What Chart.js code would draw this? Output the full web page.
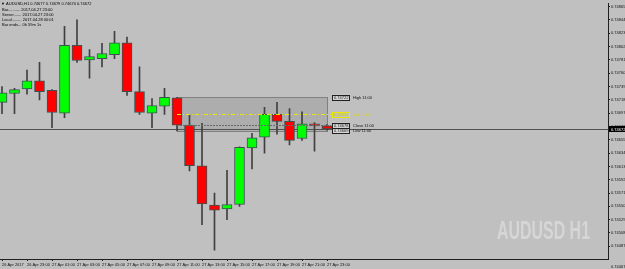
<!DOCTYPE html>
<html><head><meta charset="utf-8">
<script src="https://cdn.jsdelivr.net/npm/chart.js@4/dist/chart.umd.min.js"></script>
<style>
html,body{margin:0;padding:0;background:#c0c0c0;overflow:hidden}
#wrap{position:relative;width:625px;height:269px}
canvas{display:block}
</style>
</head><body><div id="wrap"><canvas id="c" width="625" height="269"></canvas></div>
<script>
// ---- data (AUDUSD H1, 26 Apr 21:00 .. 27 Apr 23:00) ----
const barTimes = ['26 Apr 21:00','26 Apr 22:00','26 Apr 23:00','27 Apr 00:00','27 Apr 01:00','27 Apr 02:00','27 Apr 03:00','27 Apr 04:00','27 Apr 05:00','27 Apr 06:00','27 Apr 07:00','27 Apr 08:00','27 Apr 09:00','27 Apr 10:00','27 Apr 11:00','27 Apr 12:00','27 Apr 13:00','27 Apr 14:00','27 Apr 15:00','27 Apr 16:00','27 Apr 17:00','27 Apr 18:00','27 Apr 19:00','27 Apr 20:00','27 Apr 21:00','27 Apr 22:00','27 Apr 23:00'];
const openP  = [0.74714,0.74728,0.74735,0.74748,0.74733,0.74697,0.74804,0.74781,0.74783,0.74789,0.74808,0.74731,0.74697,0.74708,0.74721,0.74678,0.74614,0.74552,0.74546,0.74553,0.74642,0.74659,0.74695,0.74684,0.74657,0.74680,0.74677];
const highP  = [0.74739,0.74736,0.74765,0.74777,0.74734,0.74834,0.74844,0.74797,0.74807,0.74826,0.74817,0.74770,0.74720,0.74736,0.74722,0.74694,0.74681,0.74571,0.74607,0.74644,0.74665,0.74706,0.74714,0.74704,0.74699,0.74682,0.74679];
const lowP   = [0.74696,0.74696,0.74727,0.74718,0.74674,0.74690,0.74777,0.74752,0.74770,0.74783,0.74725,0.74695,0.74674,0.74695,0.74669,0.74606,0.74521,0.74481,0.74529,0.74550,0.74609,0.74634,0.74664,0.74647,0.74654,0.74637,0.74670];
const closeP = [0.74729,0.74734,0.74748,0.74731,0.74698,0.74804,0.74780,0.74786,0.74791,0.74808,0.74731,0.74698,0.74709,0.74722,0.74678,0.74614,0.74554,0.74544,0.74553,0.74643,0.74658,0.74695,0.74684,0.74654,0.74680,0.74677,0.74672];
const axisLabels = ['26 Apr 2017','26 Apr 23:00','27 Apr 01:00','27 Apr 03:00','27 Apr 05:00','27 Apr 07:00','27 Apr 09:00','27 Apr 11:00','27 Apr 13:00','27 Apr 15:00','27 Apr 17:00','27 Apr 19:00','27 Apr 21:00','27 Apr 23:00'];
const axisLabelIdx = [0,2,4,6,8,10,12,14,16,18,20,22,24,26];
const yTicks = [0.74865,0.74844,0.74823,0.74802,0.74781,0.74760,0.74739,0.74718,0.74697,0.74676,0.74655,0.74634,0.74613,0.74592,0.74571,0.74550,0.74529,0.74508,0.74487];
const rangeBar = 14;              // the 11:00 bar whose range is boxed
const rangeNames = ['High 11:00','Mid 11:00','Close 11:00','Low 11:00'];
const infoLines = ['Bar........... 2017.04.27 23:00','Server....... 2017.04.27 23:00','Local......... 2017.04.28 00:01','Bar ends... 0h 59m 1s'];
const symbolName = 'AUDUSD H1';

// ---- scale extents ----
const yMax = 0.74870, yMin = 0.74467;
const xMin = -0.16, xMax = 48.48;

const FONT = "'Liberation Sans', Arial, sans-serif";
const n = openP.length;
const last = n - 1;

const overlay = {
  id: 'overlay',
  beforeDatasetsDraw(chart) {
    const {ctx, scales: {x, y}, chartArea: a} = chart;
    const x0 = x.getPixelForValue(rangeBar), x1 = x.getPixelForValue(last);
    const yT = y.getPixelForValue(highP[rangeBar]), yB = y.getPixelForValue(lowP[rangeBar]);
    ctx.save();
    ctx.fillStyle = 'rgba(150,150,150,0.45)';
    ctx.fillRect(x0, yT, x1 - x0, yB - yT);
    ctx.strokeStyle = '#808080'; ctx.lineWidth = 1;
    ctx.strokeRect(Math.round(x0) + 0.5, Math.round(yT) + 0.5, Math.round(x1 - x0), Math.round(yB - yT));
    // bid line
    const yc = Math.round(y.getPixelForValue(closeP[last])) + 0.5;
    ctx.strokeStyle = '#505050';
    ctx.beginPath(); ctx.moveTo(a.left, yc); ctx.lineTo(a.right, yc); ctx.stroke();
    ctx.restore();
  },
  afterDatasetsDraw(chart) {
    const {ctx, scales: {x, y}, chartArea: a} = chart;
    const x0 = x.getPixelForValue(rangeBar), x1 = x.getPixelForValue(last);
    const levels = [highP[rangeBar], (highP[rangeBar] + lowP[rangeBar]) / 2, closeP[rangeBar], lowP[rangeBar]];
    ctx.save();
    // mid line (yellow dash-dot)
    let ym = Math.round(y.getPixelForValue(levels[1])) + 0.5;
    ctx.strokeStyle = '#e8e800'; ctx.lineWidth = 1; ctx.setLineDash([4, 2, 1, 2]);
    ctx.beginPath(); ctx.moveTo(x0, ym); ctx.lineTo(x1 + 4, ym); ctx.stroke();
    // close line (dotted)
    let yc = Math.round(y.getPixelForValue(levels[2])) + 0.5;
    ctx.strokeStyle = '#6a6a6a'; ctx.setLineDash([2, 1]);
    ctx.beginPath(); ctx.moveTo(x0, yc); ctx.lineTo(x1 + 4, yc); ctx.stroke();
    ctx.setLineDash([]);
    // labels
    ctx.font = '4px ' + FONT; ctx.textBaseline = 'middle';
    levels.forEach((v, i) => {
      const py = y.getPixelForValue(v);
      const bx = x1 + 5, bw = 17, bh = 5;
      const yellow = i === 1;
      ctx.fillStyle = yellow ? '#c0c0c0' : '#d8d8d8';
      ctx.fillRect(bx, py - bh / 2, bw, bh);
      ctx.strokeStyle = yellow ? '#e8e800' : '#202020';
      ctx.strokeRect(bx + 0.5, Math.round(py - bh / 2) + 0.5, bw, bh);
      ctx.fillStyle = yellow ? '#d8d800' : '#101010';
      ctx.textAlign = 'left';
      ctx.fillText(v.toFixed(5), bx + 2, py + 0.5);
      ctx.fillText(rangeNames[i], bx + bw + 4, py + 0.5);
    });
    // current price label on axis
    const pc = y.getPixelForValue(closeP[last]);
    ctx.fillStyle = '#000';
    ctx.fillRect(a.right + 1, pc - 3, 625 - a.right, 6);
    ctx.fillStyle = '#ffffff';
    ctx.fillText(closeP[last].toFixed(5), a.right + 3, pc + 0.5);
    // bottom price label
    ctx.fillStyle = '#101010';
    ctx.fillText(yMin.toFixed(5), a.right + 3, 266.5);
    // header
    ctx.fillStyle = '#000';
    ctx.fillText('\u25BC AUDUSD,H1 ' + [openP[last], highP[last], lowP[last], closeP[last]].map(v => v.toFixed(5)).join(' '), 1, 4);
    infoLines.forEach((t, i) => ctx.fillText(t, 2, 9.7 + i * 5.2));
    // watermark
    ctx.font = 'bold 25px ' + FONT;
    const w = ctx.measureText(symbolName).width;
    ctx.translate(497, 232.5);
    ctx.scale(93 / w, 1);
    ctx.fillStyle = '#d6d6d6';
    ctx.textBaseline = 'middle';
    ctx.fillText(symbolName, 0, 0);
    ctx.restore();
  }
};

const bodyColors = openP.map((o, i) => closeP[i] >= o ? '#00ff00' : '#ff0000');

new Chart(document.getElementById('c'), {
  type: 'bar',
  data: {
    datasets: [
      {
        label: 'wick',
        data: barTimes.map((t, i) => ({x: i, y: [lowP[i], highP[i]]})),
        backgroundColor: '#404040',
        barThickness: 1,
        grouped: false,
        order: 2
      },
      {
        label: 'body',
        data: barTimes.map((t, i) => ({x: i, y: [openP[i], closeP[i]]})),
        backgroundColor: bodyColors,
        borderColor: '#3a5252',
        borderWidth: 1,
        borderSkipped: false,
        barThickness: 10,
        grouped: false,
        order: 1
      }
    ]
  },
  options: {
    responsive: false,
    animation: false,
    devicePixelRatio: 1,
    layout: {padding: 0, autoPadding: false},
    plugins: {legend: {display: false}, tooltip: {enabled: false}},
    scales: {
      x: {
        type: 'linear', min: xMin, max: xMax, offset: false,
        afterBuildTicks: s => { s.ticks = axisLabelIdx.map(v => ({value: v})); },
        afterFit: s => { s.height = 10; },
        grid: {drawOnChartArea: false, tickLength: 2, color: '#202020', offset: false},
        border: {color: '#202020'},
        ticks: {align: 'start', maxRotation: 0, minRotation: 0, autoSkip: false, padding: 1,
          font: {size: 4, family: FONT}, color: '#101010',
          callback: (v, i) => axisLabels[i]}
      },
      y: {
        type: 'linear', position: 'right', min: yMin, max: yMax,
        afterBuildTicks: s => { s.ticks = yTicks.map(v => ({value: v})); },
        afterFit: s => { s.width = 17; },
        grid: {drawOnChartArea: false, tickLength: 2, color: '#202020'},
        border: {color: '#202020'},
        ticks: {padding: 1, font: {size: 4, family: FONT}, color: '#101010',
          callback: v => v.toFixed(5)}
      }
    }
  },
  plugins: [overlay]
});
</script>
</body></html>
